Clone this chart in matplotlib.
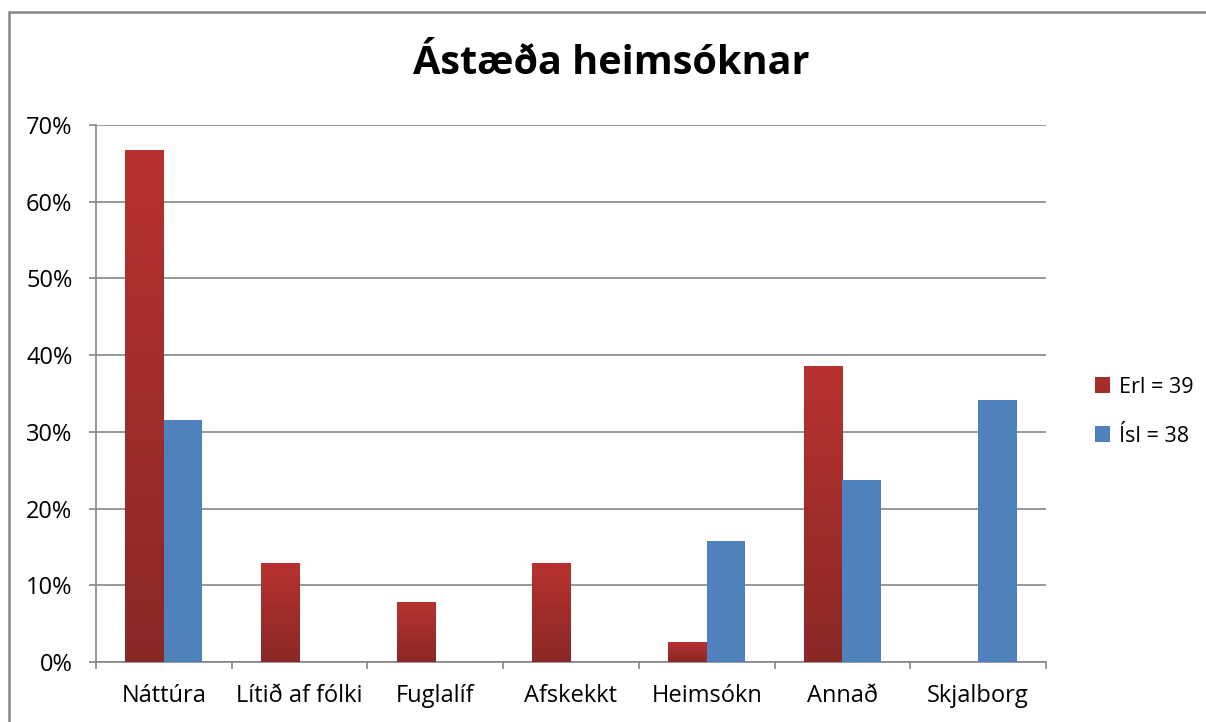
import numpy as np
import matplotlib
matplotlib.use('Agg')
import matplotlib.pyplot as plt
from matplotlib.colors import LinearSegmentedColormap
from matplotlib.patches import Rectangle, Patch

categories = ['Náttúra', 'Lítið af fólki', 'Fuglalíf', 'Afskekkt', 'Heimsókn', 'Annað', 'Skjalborg']
erl = [66.7, 12.8, 7.7, 12.8, 2.6, 38.5, 0.0]
isl = [31.6, 0.0, 0.0, 0.0, 15.8, 23.7, 34.2]
series_names = ['Erl = 39', 'Ísl = 38']

plt.rcParams['font.family'] = ['Open Sans', 'DejaVu Sans']

fig = plt.figure(figsize=(12.06, 7.22), dpi=100, facecolor='white')
ax = fig.add_axes([96 / 1206, 60 / 722, 950 / 1206, 537 / 722])

# outer chart border (top/left visible, rest cut off)
fig.patches.append(Rectangle((9 / 1206, -0.1), 1.2, (722 - 12) / 722 + 0.1,
                             transform=fig.transFigure, fill=False,
                             edgecolor='#868686', lw=1.8))

red_cmap = LinearSegmentedColormap.from_list('red', ['#8A2826', '#B8322F'])
blue = '#4F81BD'
w = 0.284
x = np.arange(len(categories))

# red bars with vertical gradient per bar
grad = np.linspace(0, 1, 256).reshape(-1, 1)
for xi, v in zip(x, erl):
    if v <= 0:
        continue
    ax.imshow(grad, cmap=red_cmap, origin='lower', aspect='auto',
              extent=(xi - w, xi, 0, v), zorder=3)

ax.bar(x + w / 2, isl, width=w, color=blue, zorder=3)

ax.set_xlim(-0.5, len(categories) - 0.5)
ax.set_ylim(0, 70)
ax.set_yticks(range(0, 71, 10))
ax.set_yticklabels([f'{t}%' for t in range(0, 71, 10)])
ax.set_xticks(x)
ax.set_xticklabels(categories)
ax.set_xticks(np.arange(-0.5, len(categories)), minor=True)
ax.tick_params(axis='x', which='major', length=0, pad=16, labelsize=17)
ax.tick_params(axis='x', which='minor', length=5, color='#868686', width=1.2)
ax.tick_params(axis='y', length=5, color='#868686', width=1.2, labelsize=17, pad=12)

ax.grid(axis='y', color='#868686', lw=1.2, zorder=0)
ax.set_axisbelow(True)
for s in ['top', 'right']:
    ax.spines[s].set_visible(False)
for s in ['left', 'bottom']:
    ax.spines[s].set_color('#868686')
    ax.spines[s].set_linewidth(1.2)

fig.text(0.507, 0.912, 'Ástæða heimsóknar', ha='center', va='center',
         fontsize=28.5, fontweight='bold')

handles = [Patch(facecolor='#A52D2B'), Patch(facecolor=blue)]
fig.legend(handles, series_names, loc='center left', bbox_to_anchor=(1076 / 1206, 0.43),
           frameon=False, fontsize=15.5, handlelength=0.7, handleheight=0.7,
           handletextpad=0.4, labelspacing=1.3)

fig.savefig('out.png', dpi=100)
